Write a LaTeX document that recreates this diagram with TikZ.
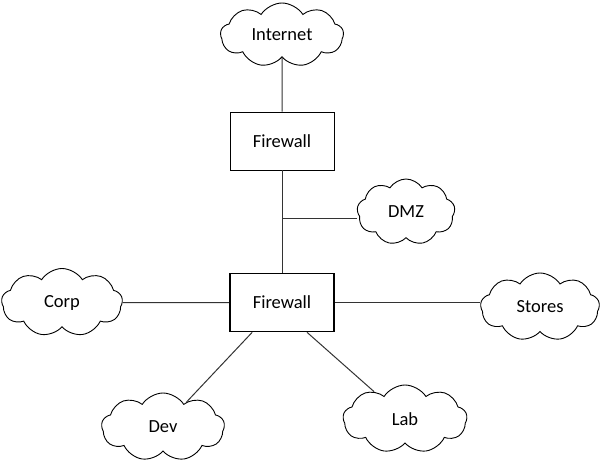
\documentclass[tikz,border=0pt]{standalone}
\usepackage{fontspec}
\setmainfont{Carlito}
\usepackage{tikz}
\usetikzlibrary{shapes.symbols}
\usepackage{xcolor}
\definecolor{netline}{HTML}{333333}

\begin{document}
\begin{tikzpicture}[
  x=1pt, y=-1pt,
  font=\fontsize{18.5}{22}\selectfont,
  netcloud/.style={cloud, cloud puffs=9, cloud puff arc=115, draw, line width=0.9pt, fill=white, inner sep=0pt},
  fwbox/.style={draw, rectangle, fill=white, minimum width=104pt, minimum height=58pt, inner sep=0pt},
  link/.style={draw=netline, line width=1pt}
]
\useasboundingbox (0,0) rectangle (604,462);

\node[netcloud, aspect=1.92, minimum width=123pt, minimum height=64pt] (internet) at (282,35) {Internet};
\node[fwbox, line width=0.9pt] (fwtop) at (282,141) {Firewall};
\node[netcloud, aspect=1.5, minimum width=98pt, minimum height=66pt] (dmz) at (406,212) {DMZ};
\node[fwbox, line width=1.7pt] (fwcore) at (282,302.5) {Firewall};
\node[netcloud, aspect=1.78, minimum width=121pt, minimum height=68pt] (corp) at (62,302.5) {Corp};
\node[netcloud, aspect=1.75, minimum width=119pt, minimum height=68pt] (stores) at (540,307) {Stores};
\node[netcloud, aspect=1.8, minimum width=123pt, minimum height=68pt] (dev) at (163,427) {Dev};
\node[netcloud, aspect=1.8, minimum width=124pt, minimum height=68pt] (lab) at (405,419) {Lab};

\coordinate (dmzjoin) at (282,218);

\draw[link] (internet) -- (fwtop);
\draw[link] (fwtop) -- (fwcore);
\draw[link] (dmzjoin) -- (dmzjoin -| dmz.west);
\draw[link] (corp) -- (fwcore);
\draw[link] (fwcore) -- (stores.west |- fwcore);
\draw[link] (fwcore.225) -- (dev);
\draw[link] (fwcore.310) -- (lab);

\end{tikzpicture}
\end{document}
